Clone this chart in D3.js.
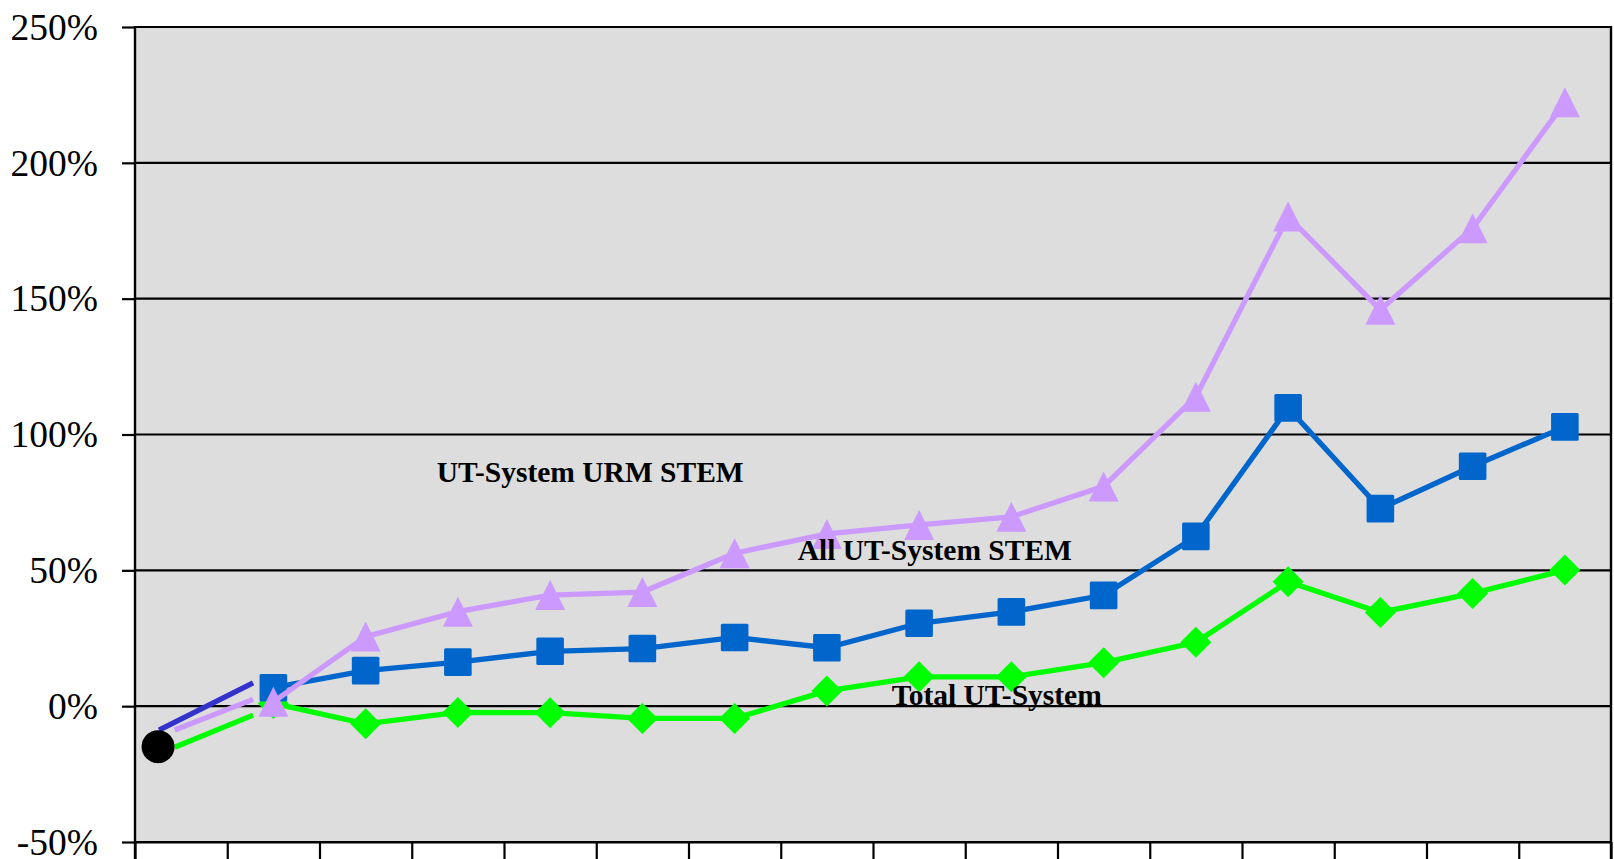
<!DOCTYPE html>
<html>
<head>
<meta charset="utf-8">
<script src="https://cdn.jsdelivr.net/npm/d3@7"></script>
<style>
  html, body { margin: 0; padding: 0; background: #ffffff; }
  svg { display: block; }
</style>
</head>
<body>
<svg id="chart" width="1614" height="859"></svg>
<script>
// ---------------- DATA ----------------
const categories = ["1","2","3","4","5","6","7","8","9","10","11","12","13","14","15","16"];
const yTickValues = [-50, 0, 50, 100, 150, 200, 250];

// Series values (percent change), one per category; first category holds the origin only
const totalUT = [null, 1.0, -6.5, -2.3, -2.4, -4.5, -4.5, 5.6, 10.8, 10.8, 16.0, 23.5, 45.8, 34.5, 41.5, 50.1];
const allSTEM = [null, 6.8, 13.1, 16.2, 20.2, 21.2, 25.3, 21.5, 30.5, 34.7, 40.8, 62.5, 109.8, 72.7, 88.3, 102.8];
const urmSTEM = [null, 1.6, 25.6, 34.8, 40.9, 42.0, 56.3, 63.4, 66.7, 69.7, 80.9, 113.9, 180.2, 145.9, 175.9, 222.3];

// Common origin point (category position, value)
const originPos = -0.25;
const originVal = -14.9;

// Hand-drawn connector segments from origin toward first points
const connectorNames = ["allSTEM", "urmSTEM", "totalUT"];
const connectorStartPos = [-0.24, -0.07, -0.07];
const connectorStartVal = [-8.8, -8.8, -15.1];
const connectorEndPos = [0.78, 0.78, 0.78];
const connectorEndVal = [8.6, 2.5, -3.3];

const annotationTexts = ["UT-System URM STEM", "All UT-System STEM", "Total UT-System"];

// ---------------- LAYOUT / STYLE ----------------
const plot = { left: 135, right: 1611, top: 27, bottom: 842 };
const colors = { totalUT: "#00FF00", allSTEM: "#0066CC", urmSTEM: "#CC99FF", connAll: "#3333CC", bg: "#DDDDDD" };

const svg = d3.select("#chart");

const x = d3.scaleLinear().domain([-0.5, categories.length - 0.5]).range([plot.left, plot.right]);
const y = d3.scaleLinear().domain([-50, 250]).range([plot.bottom, plot.top]);

// plot background
svg.append("rect")
  .attr("x", plot.left).attr("y", plot.top)
  .attr("width", plot.right - plot.left).attr("height", plot.bottom - plot.top)
  .attr("fill", colors.bg);

// gridlines
svg.append("g").selectAll("line").data(yTickValues).join("line")
  .attr("x1", plot.left).attr("x2", plot.right)
  .attr("y1", d => y(d)).attr("y2", d => y(d))
  .attr("stroke", "#000").attr("stroke-width", 2.2);

// y axis
const yAxis = svg.append("g").attr("transform", `translate(${plot.left},0)`)
  .call(d3.axisLeft(y).tickValues(yTickValues).tickSize(13).tickSizeOuter(0).tickFormat(d => d + "%"));
yAxis.select(".domain").remove();
yAxis.selectAll(".tick line").attr("stroke", "#000").attr("stroke-width", 2.2);
yAxis.selectAll(".tick text")
  .attr("x", -37).attr("dy", null).attr("y", 12.3)
  .attr("font-family", "'Liberation Serif', 'Times New Roman', serif")
  .attr("font-size", 37.5).attr("fill", "#000");

// x axis (band boundaries, no labels)
const boundaries = categories.map((c, i) => i - 0.5).concat([categories.length - 0.5]);
const xAxis = svg.append("g").attr("transform", `translate(0,${plot.bottom})`)
  .call(d3.axisBottom(x).tickValues(boundaries).tickSize(22).tickSizeOuter(0).tickFormat(""));
xAxis.select(".domain").attr("stroke", "#000").attr("stroke-width", 2.2);
xAxis.selectAll(".tick line").attr("stroke", "#000").attr("stroke-width", 2.2);

// left and right plot border lines
svg.append("line").attr("x1", plot.left).attr("x2", plot.left).attr("y1", plot.top - 1).attr("y2", 859)
  .attr("stroke", "#000").attr("stroke-width", 2.4);
svg.append("line").attr("x1", plot.right).attr("x2", plot.right).attr("y1", plot.top - 1).attr("y2", 859)
  .attr("stroke", "#000").attr("stroke-width", 2.4);

// connectors
const connColors = [colors.connAll, colors.urmSTEM, colors.totalUT];
svg.append("g").selectAll("line").data(connectorNames).join("line")
  .attr("x1", (d, i) => x(connectorStartPos[i])).attr("y1", (d, i) => y(connectorStartVal[i]))
  .attr("x2", (d, i) => x(connectorEndPos[i])).attr("y2", (d, i) => y(connectorEndVal[i]))
  .attr("stroke", (d, i) => connColors[i]).attr("stroke-width", 5.3);

// series
const series = [
  { name: "totalUT", values: totalUT, color: colors.totalUT, marker: "diamond" },
  { name: "allSTEM", values: allSTEM, color: colors.allSTEM, marker: "square" },
  { name: "urmSTEM", values: urmSTEM, color: colors.urmSTEM, marker: "triangle" }
];

const line = d3.line().defined(d => d.v != null).x(d => x(d.i)).y(d => y(d.v));

series.forEach(s => {
  const pts = s.values.map((v, i) => ({ i, v })).filter(d => d.v != null);
  const g = svg.append("g");
  g.append("path").datum(pts).attr("d", line)
    .attr("fill", "none").attr("stroke", s.color).attr("stroke-width", 5.3).attr("stroke-linejoin", "miter");
  const m = g.selectAll(".m").data(pts).join("g").attr("transform", d => `translate(${x(d.i)},${y(d.v)})`);
  if (s.marker === "square") {
    m.append("rect").attr("x", -13.8).attr("y", -13.8).attr("width", 27.6).attr("height", 27.6)
      .attr("rx", 1.5).attr("fill", s.color);
  } else if (s.marker === "diamond") {
    m.append("path").attr("d", "M0,-15.5L15.5,0L0,15.5L-15.5,0Z").attr("fill", s.color);
  } else {
    m.append("path").attr("d", "M0,-15L15,15L-15,15Z").attr("fill", s.color);
  }
});

// origin point
svg.append("circle").attr("cx", x(originPos)).attr("cy", y(originVal)).attr("r", 16.5).attr("fill", "#000");

// annotations
const annPos = [[436.7, 481.7], [797.7, 560], [891.7, 705]];
svg.append("g").selectAll("text").data(annotationTexts).join("text")
  .attr("x", (d, i) => annPos[i][0]).attr("y", (d, i) => annPos[i][1])
  .attr("font-family", "'Liberation Serif', 'Times New Roman', serif")
  .attr("font-weight", "bold").attr("font-size", 29.5).attr("fill", "#000")
  .text(d => d);
</script>
</body>
</html>
